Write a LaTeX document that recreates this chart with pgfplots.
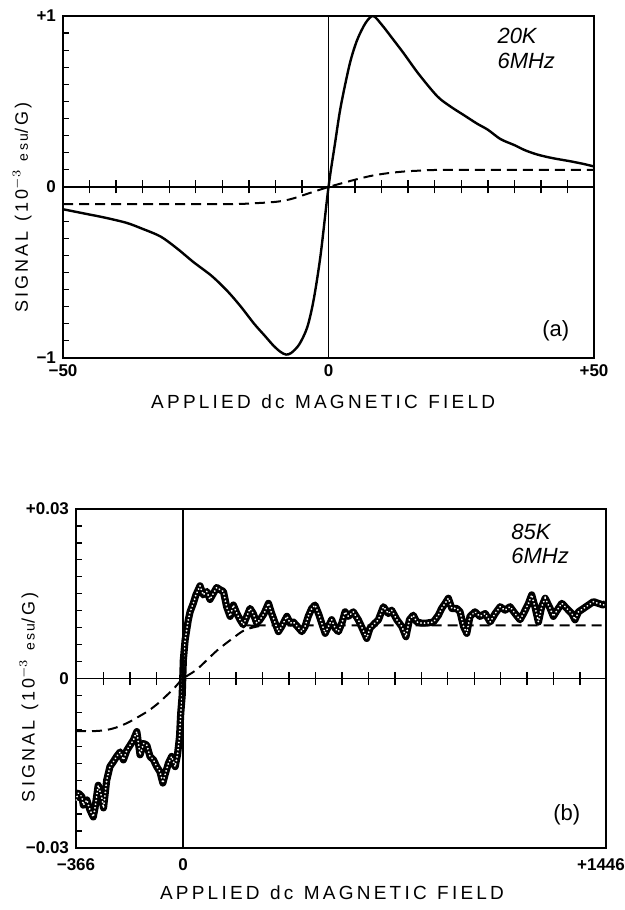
\documentclass[border=0pt]{standalone}
\usepackage{fontspec}
\setmainfont{Liberation Sans}
\newfontfamily\lbl[LetterSpace=17]{Liberation Sans}
\usepackage{pgfplots}
\usepackage{pgfplotstable}
\pgfplotsset{compat=1.18}

% panel (b) trace
\pgfplotstableread{
x y
-366 -0.0215
-358 -0.0203
-346 -0.0209
-341 -0.0224
-329 -0.0215
-318 -0.0233
-307 -0.0245
-301 -0.0229
-290 -0.0189
-278 -0.0210
-272 -0.0229
-261 -0.0180
-250 -0.0156
-238 -0.0147
-227 -0.0138
-215 -0.0130
-204 -0.0144
-192 -0.0127
-181 -0.0118
-170 -0.0109
-158 -0.0094
-147 -0.0135
-135 -0.0115
-124 -0.0118
-113 -0.0138
-101 -0.0144
-90 -0.0156
-79 -0.0165
-69 -0.0185
-62 -0.0171
-50 -0.0150
-39 -0.0138
-27 -0.0156
-19 -0.0135
-12 -0.0103
-8 -0.0062
-3 -0.0030
1 0.0033
7 0.0068
18 0.0104
24 0.0118
35 0.0133
44 0.0148
58 0.0164
69 0.0148
81 0.0154
92 0.0140
104 0.0151
115 0.0161
127 0.0157
138 0.0154
149 0.0127
161 0.0110
172 0.0130
184 0.0115
195 0.0104
206 0.0095
218 0.0110
229 0.0124
240 0.0115
252 0.0098
263 0.0104
277 0.0115
292 0.0133
303 0.0115
315 0.0098
326 0.0083
337 0.0092
355 0.0110
366 0.0098
377 0.0100
391 0.0092
406 0.0083
417 0.0092
428 0.0110
440 0.0124
451 0.0130
463 0.0115
474 0.0098
486 0.0080
497 0.0092
508 0.0104
520 0.0089
531 0.0083
543 0.0098
554 0.0118
565 0.0110
582 0.0118
599 0.0104
610 0.0092
628 0.0071
639 0.0089
656 0.0098
668 0.0104
685 0.0127
702 0.0115
713 0.0121
731 0.0104
748 0.0092
762 0.0074
774 0.0104
787 0.0112
799 0.0100
816 0.0098
833 0.0098
856 0.0100
873 0.0112
884 0.0124
896 0.0133
907 0.0142
919 0.0124
936 0.0124
947 0.0118
959 0.0092
970 0.0080
981 0.0110
998 0.0118
1015 0.0110
1033 0.0115
1050 0.0100
1067 0.0115
1084 0.0127
1101 0.0121
1118 0.0127
1135 0.0115
1152 0.0104
1164 0.0115
1181 0.0133
1192 0.0148
1203 0.0127
1215 0.0100
1226 0.0127
1238 0.0142
1255 0.0124
1266 0.0110
1283 0.0124
1295 0.0133
1312 0.0124
1329 0.0115
1340 0.0104
1352 0.0118
1369 0.0124
1386 0.0130
1403 0.0136
1420 0.0133
1437 0.0130
1446 0.0133
}\noisy

\newcommand\gap{\hspace{0.55em}}

\pgfplotsset{
  frame/.style={
    scale only axis, anchor=south west,
    axis line style={line width=0.9pt},
    tick style={black, line width=0.6pt},
    major tick length=3pt, minor tick length=3pt,
    tick align=inside, ytick pos=left, xtick pos=bottom,
    tick label style={font=\bfseries\fontsize{8.5}{9}\selectfont},
    scaled x ticks=false, scaled y ticks=false,
    clip mode=individual,
  },
  zero/.style={
    scale only axis, anchor=south west,
    axis x line=middle, axis y line=middle,
    axis line style={-, line width=0.7pt},
    ytick=\empty, xticklabel=\empty,
    scaled x ticks=false, scaled y ticks=false,
    tick align=center, major tick length=6.5pt,
    tick style={black, line width=0.7pt},
  },
}

\begin{document}
\begin{tikzpicture}
\path[use as bounding box] (0,0) rectangle (312.5pt,455pt);

% ---------- (a) ----------
\begin{axis}[frame, at={(31.5pt,276pt)}, width=265.5pt, height=171pt,
  xmin=-50, xmax=50, ymin=-1, ymax=1,
  xtick={-50,0,50}, xticklabels={−50,0,+50},
  ytick={-1,0,1}, yticklabels={−1,0,+1},
  minor ytick={-0.9,-0.8,-0.7,-0.6,-0.5,-0.4,-0.3,-0.2,-0.1,0.1,0.2,0.3,0.4,0.5,0.6,0.7,0.8,0.9}]
\addplot[black, line width=1.2pt, smooth, tension=0.5] coordinates {
(-50,-0.13) (-46,-0.155) (-42,-0.18) (-38,-0.21) (-35,-0.245)
(-31.6,-0.29) (-28.5,-0.36) (-25.4,-0.44) (-22,-0.52) (-19,-0.61)
(-16.5,-0.70) (-14,-0.80) (-12,-0.87) (-10.3,-0.93) (-9,-0.965) (-8,-0.98)
(-7,-0.97) (-5.5,-0.92) (-4,-0.82) (-2.8,-0.66) (-1.5,-0.40) (0,0)
(1.2,0.25) (2.3,0.47) (4,0.72) (5.4,0.86) (7,0.96) (8.4,1.0) (10,0.95)
(12,0.87) (14.2,0.78) (17,0.66) (20.5,0.53) (23,0.47) (25.5,0.42) (28,0.37)
(30,0.335) (32.4,0.28) (35,0.245) (37,0.215) (39.3,0.19) (42,0.17)
(45.6,0.15) (48,0.135) (50,0.12)};
\addplot[black, line width=1pt, dash pattern=on 5pt off 3pt, smooth] coordinates {
(-50,-0.1) (-20,-0.1) (-14,-0.095) (-9.7,-0.086) (-7,-0.07) (-4,-0.04)
(0,0) (4.8,0.041) (8,0.065) (11,0.08) (14,0.09) (16.7,0.095) (22,0.1) (50,0.1)};
\node[anchor=north west, align=left, font=\itshape\fontsize{11}{12.5}\selectfont]
  at (rel axis cs:0.805,0.985) {20K\\6MHz};
\node[font=\fontsize{11}{12}\selectfont] at (rel axis cs:0.928,0.079) {(a)};
\node[rotate=90, font=\lbl\fontsize{9}{10}\selectfont] at (rel axis cs:-0.077,0.44)
  {SIGNAL\gap(10$^{-3}$ {\fontsize{7}{8}\selectfont esu}/G)};
\node[font=\lbl\fontsize{9.5}{10}\selectfont] at (rel axis cs:0.49,0) [yshift=-22pt]
  {APPLIED\gap dc\gap MAGNETIC\gap FIELD};
\end{axis}
\begin{axis}[zero, at={(31.5pt,276pt)}, width=265.5pt, height=171pt,
  xmin=-50, xmax=50, ymin=-1, ymax=1,
  xtick={-45,-40,-35,-30,-25,-20,-15,-10,-5,5,10,15,20,25,30,35,40,45}]
\end{axis}

% ---------- (b) ----------
\begin{axis}[frame, at={(38pt,31pt)}, width=265pt, height=169.5pt,
  xmin=-366, xmax=1446, ymin=-0.03, ymax=0.03,
  xtick={-366,0,1446}, xticklabels={−366,0,\hspace*{-5pt}+1446},
  xticklabel style={yshift=-2pt},
  ytick={-0.03,0,0.03}, yticklabels={−0.03,0,+0.03},
  minor ytick={-0.027,-0.024,-0.021,-0.018,-0.015,-0.012,-0.009,-0.006,-0.003,0.003,0.006,0.009,0.012,0.015,0.018,0.021,0.024,0.027}]
\addplot[black, line width=1pt, dash pattern=on 5pt off 3pt, smooth] coordinates {
(-366,-0.0093) (-300,-0.0093) (-261,-0.0091) (-230,-0.0087) (-192,-0.0079)
(-160,-0.0070) (-124,-0.0059) (-90,-0.0046) (-56,-0.0030) (-25,-0.0014) (0,0)
(47,0.0016) (115,0.0049) (172,0.0072) (212,0.0086) (263,0.0093) (300,0.0094) (1446,0.0094)};
\addplot[black, line width=3.6pt, line join=round] table[x=x, y=y] {\noisy};
\addplot[white, line width=1pt, line cap=round, dash pattern=on 0.01pt off 1.8pt]
  table[x=x, y=y] {\noisy};
\node[anchor=north west, align=left, font=\itshape\fontsize{11}{12}\selectfont]
  at (rel axis cs:0.808,0.975) {85K\\6MHz};
\node[font=\fontsize{11}{12}\selectfont] at (rel axis cs:0.926,0.097) {(b)};
\node[rotate=90, font=\lbl\fontsize{9}{10}\selectfont] at (rel axis cs:-0.089,0.445)
  {SIGNAL\gap(10$^{-3}$ {\fontsize{7}{8}\selectfont esu}/G)};
\node[font=\lbl\fontsize{9.5}{10}\selectfont] at (rel axis cs:0.483,0) [yshift=-22.5pt]
  {APPLIED\gap dc\gap MAGNETIC\gap FIELD};
\end{axis}
\begin{axis}[zero, at={(38pt,31pt)}, width=265pt, height=169.5pt,
  xmin=-366, xmax=1446, ymin=-0.03, ymax=0.03,
  xtick={-271.5,-181,-90.5,90.5,181,271.5,362,452.5,543,633.5,724,814.5,905,995.5,1086,1176.5,1267,1357.5}]
\end{axis}
\end{tikzpicture}
\end{document}
